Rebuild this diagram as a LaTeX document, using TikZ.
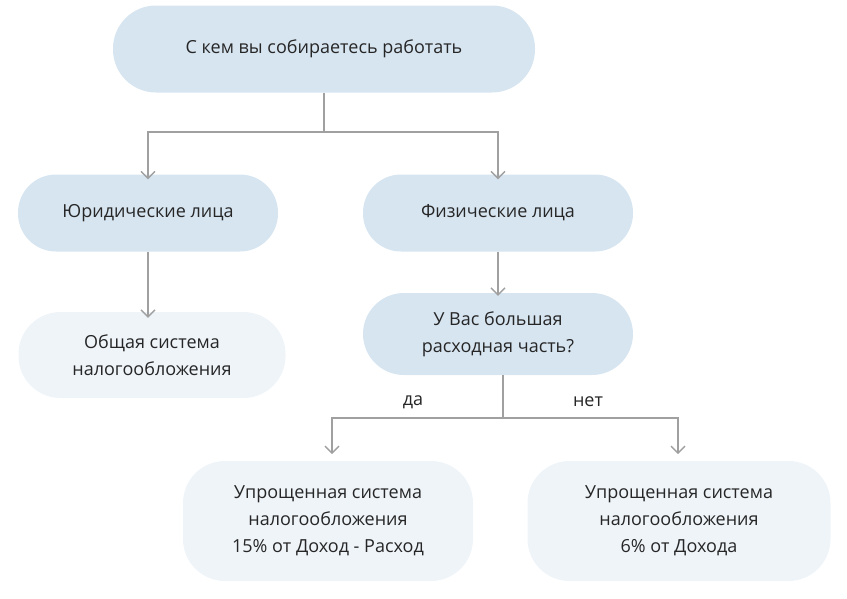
\documentclass[tikz,border=0pt]{standalone}
\usepackage{fontspec}
\setmainfont{Open Sans}
\usetikzlibrary{arrows.meta, positioning}
\definecolor{pillblue}{HTML}{D7E5F1}
\definecolor{pilllight}{HTML}{EFF4F9}
\definecolor{linegray}{HTML}{A0A0A0}
\tikzset{
  pill/.style={fill=pillblue, rounded corners=38pt, align=center,
    font=\fontsize{18}{27}\selectfont, text=black!85},
  leaf/.style={pill, fill=pilllight, rounded corners=42pt},
  conn/.style={draw=linegray, line width=1.3pt},
  arr/.style={conn, -{Straight Barb[length=7pt,width=14pt]}}
}
\begin{document}
\begin{tikzpicture}[x=1pt, y=-1pt]
  \useasboundingbox (0, 0) rectangle (847, 598);
  % boxes
  \node[pill, minimum width=422pt, minimum height=87pt, rounded corners=43pt] (who) at (324, 49) {С кем вы собираетесь работать};
  \node[pill, minimum width=260pt, minimum height=77pt] (legal) at (148, 213) {Юридические лица};
  \node[pill, minimum width=270pt, minimum height=77pt] (phys) at (498, 213) {Физические лица};
  \node[leaf, minimum width=267pt, minimum height=86pt] (general) at (152, 355) {Общая система\\налогообложения};
  \node[pill, minimum width=270pt, minimum height=82pt, rounded corners=41pt] (costs) at (498, 334) {У Вас большая\\расходная часть?};
  \node[leaf, minimum width=290pt, minimum height=120pt] (minus) at (328, 521) {Упрощенная система\\налогообложения\\15\% от Доход - Расход};
  \node[leaf, minimum width=303pt, minimum height=120pt] (six) at (679, 521) {Упрощенная система\\налогообложения\\6\% от Дохода};
  \coordinate (split) at (324, 132);
  \coordinate (fork) at (503, 418);
  \coordinate (yesend) at (332, 454);
  \coordinate (noend) at (678, 454);
  % connectors
  \draw[conn] (who.south) -- (split);
  \draw[arr] (split) -| ([yshift=-5pt]legal.north);
  \draw[arr] (split) -| ([yshift=-5pt]phys.north);
  \draw[arr] (legal.south) -- ([yshift=-6pt]legal.south |- general.north);
  \draw[arr] (phys.south) -- ([yshift=-3pt]costs.north);
  \draw[conn] (costs.south -| fork) -- (fork);
  \draw[arr] (fork) -| (yesend);
  \draw[arr] (fork) -| (noend);
  \node[font=\fontsize{18}{20}\selectfont, text=black!85] (yes) at (413, 402) {да};
  \node[font=\fontsize{18}{20}\selectfont, text=black!85] (no) at (588, 402) {нет};
\end{tikzpicture}
\end{document}
